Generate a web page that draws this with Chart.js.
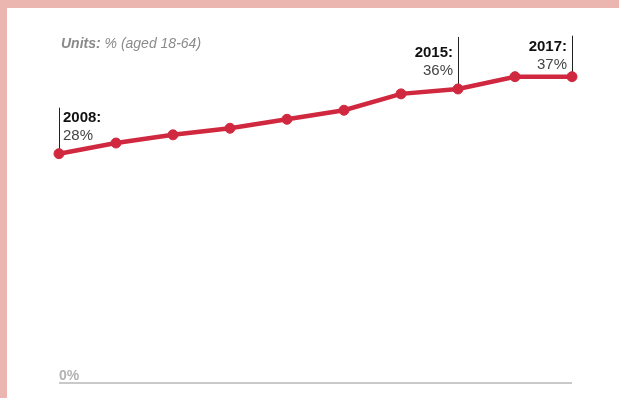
<!DOCTYPE html>
<html>
<head>
<meta charset="utf-8">
<script src="https://cdn.jsdelivr.net/npm/chart.js@4"></script>
<style>
  html, body { margin: 0; padding: 0; background: #ebb6b0; width: 619px; height: 398px; overflow: hidden; }
  #box { position: absolute; left: 7px; top: 8px; width: 612px; height: 390px; background: #ffffff; }
</style>
</head>
<body>
<div id="box"><canvas id="chart" width="612" height="390"></canvas></div>
<script>
// 年ごとの値 (%)
const years = ['2008', '2009', '2010', '2011', '2012', '2013', '2014', '2015', '2016', '2017'];
const shares = [28.0, 29.3, 30.3, 31.1, 32.2, 33.3, 35.3, 35.9, 37.4, 37.4];
// 注釈をつける年と表示ラベル
const noteYears = ['2008', '2015', '2017'];
const noteLabels = ['28%', '36%', '37%'];
const unitsLabel = ['Units:', ' % (aged 18-64)'];
const baseLabel = '0%';

const FONT = '"Liberation Sans", Arial, sans-serif';
// 注釈の見た目 (線の長さ, 文字の上げ幅, 左右)
const noteStyle = [
  { line: 46, lift: 0, left: true },
  { line: 52, lift: 0, left: false },
  { line: 41, lift: 6, left: false }
];

// 注釈・単位・ベースラインを描く (点の下に描く)
const notesPlugin = {
  id: 'notes',
  beforeDatasetsDraw(chart) {
    const ctx = chart.ctx;
    const xs = chart.scales.x;
    const ys = chart.scales.y;
    const area = chart.chartArea;
    ctx.save();

    // ベースライン 0%
    const y0 = ys.getPixelForValue(0);
    ctx.strokeStyle = '#c9c9c9';
    ctx.lineWidth = 2;
    ctx.beginPath();
    ctx.moveTo(area.left, y0);
    ctx.lineTo(area.right, y0);
    ctx.stroke();
    ctx.fillStyle = '#b3b3b3';
    ctx.font = 'bold 14px ' + FONT;
    ctx.textBaseline = 'alphabetic';
    ctx.textAlign = 'left';
    ctx.fillText(baseLabel, area.left, y0 - 3);

    // 単位
    ctx.fillStyle = '#8a8a8a';
    ctx.font = 'italic bold 14px ' + FONT;
    ctx.fillText(unitsLabel[0], area.left + 2, 40);
    const w = ctx.measureText(unitsLabel[0]).width;
    ctx.font = 'italic 14px ' + FONT;
    ctx.fillText(unitsLabel[1], area.left + 2 + w, 40);

    // 注釈
    noteYears.forEach((yr, i) => {
      const idx = years.indexOf(yr);
      const px = xs.getPixelForValue(idx);
      const py = ys.getPixelForValue(shares[idx]);
      const st = noteStyle[i];
      ctx.strokeStyle = '#222222';
      ctx.lineWidth = 1;
      ctx.beginPath();
      ctx.moveTo(px + 0.5, py - st.line);
      ctx.lineTo(px + 0.5, py);
      ctx.stroke();
      ctx.textAlign = st.left ? 'left' : 'right';
      const tx = st.left ? px + 4 : px - 5;
      ctx.fillStyle = '#111111';
      ctx.font = 'bold 15px ' + FONT;
      ctx.fillText(yr + ':', tx, py - 32 + st.lift);
      ctx.fillStyle = '#444444';
      ctx.font = '15px ' + FONT;
      ctx.fillText(noteLabels[i], tx, py - 14 + st.lift);
    });
    ctx.restore();
  }
};

new Chart(document.getElementById('chart'), {
  type: 'line',
  plugins: [notesPlugin],
  data: {
    labels: years,
    datasets: [{
      data: shares,
      borderColor: '#d0283f',
      backgroundColor: '#d0283f',
      borderWidth: 4.5,
      pointRadius: 5,
      pointBorderWidth: 1,
      pointHoverRadius: 5,
      tension: 0,
      clip: false
    }]
  },
  options: {
    responsive: false,
    animation: false,
    layout: { padding: { left: 52, right: 47, top: 31, bottom: 15 } },
    plugins: { legend: { display: false }, tooltip: { enabled: false } },
    scales: {
      x: { display: false, offset: false },
      y: { display: false, min: 0, max: 42 }
    }
  }
});
</script>
</body>
</html>
